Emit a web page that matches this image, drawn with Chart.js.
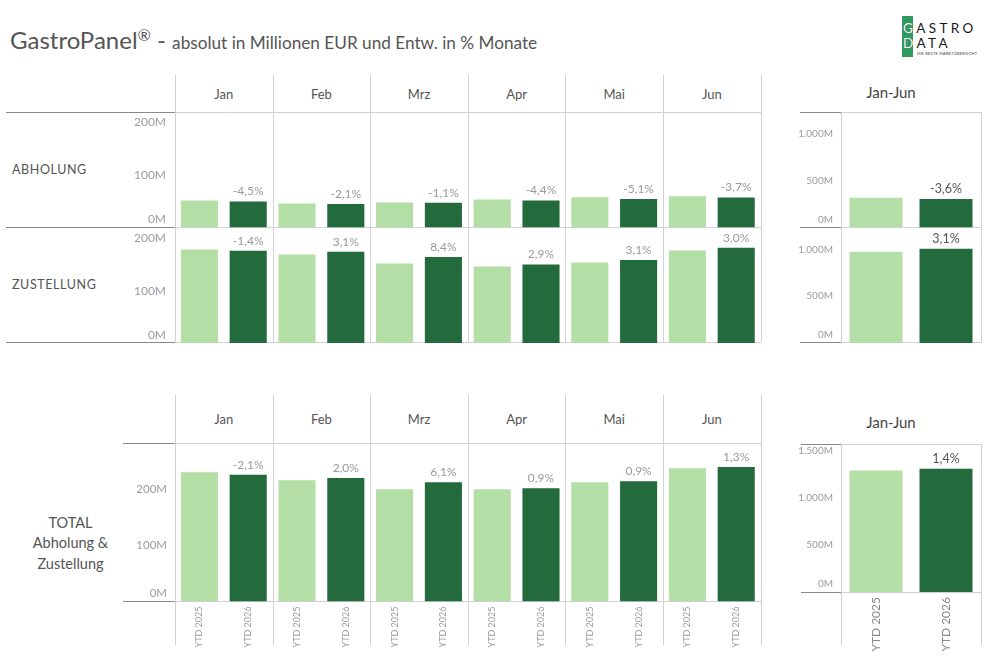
<!DOCTYPE html>
<html>
<head>
<meta charset="utf-8">
<script src="https://cdn.jsdelivr.net/npm/chart.js@4.4.1/dist/chart.umd.min.js"></script>
<style>
    body { margin: 0; width: 987px; height: 661px; background: #fff; position: relative; overflow: hidden; font-family: Lato, "Open Sans", sans-serif; }
    canvas { position: absolute; }
    .ln { position: absolute; }
    .lbl { position: absolute; white-space: nowrap; line-height: 1; }
</style>
</head>
<body>
<div id="stage"></div>
<script>
(function() {
    'use strict';

    // ---- Daten (Mio. EUR) ----
    const months = ['Jan', 'Feb', 'Mrz', 'Apr', 'Mai', 'Jun'];
    const seriesNames = ['YTD 2025', 'YTD 2026'];

    const abholung2025 = [51.6, 45.9, 47.8, 53.5, 57.4, 59.3];
    const abholung2026 = [49.3, 44.9, 47.3, 51.2, 54.4, 57.1];
    const abholungPct = ['-4,5%', '-2,1%', '-1,1%', '-4,4%', '-5,1%', '-3,7%'];

    const zustellung2025 = [178.8, 169.2, 151.9, 146.2, 153.8, 176.9];
    const zustellung2026 = [176.3, 174.4, 164.7, 150.4, 158.6, 182.2];
    const zustellungPct = ['-1,4%', '3,1%', '8,4%', '2,9%', '3,1%', '3,0%'];

    const total2025 = [229.7, 215.5, 199.6, 199.6, 212.0, 236.7];
    const total2026 = [225.5, 219.5, 211.8, 201.4, 213.9, 239.0];
    const totalPct = ['-2,1%', '2,0%', '6,1%', '0,9%', '0,9%', '1,3%'];

    // Jan-Jun Summen: [YTD 2025, YTD 2026]
    const ytdAbholung = [315.5, 304.2];
    const ytdZustellung = [977, 1007];
    const ytdTotal = [1292, 1311];
    const ytdPct = ['-3,6%', '3,1%', '1,4%'];

    // Achsen-Ticks
    const monthTicks = [0, 100, 200];
    const ytdTicks = [0, 500, 1000];
    const ytdTotalTicks = [0, 500, 1000, 1500];

    const LIGHT = '#b3dfa6';
    const DARK = '#236a3d';
    const LINE_DARK = '#8a8a8a';
    const LINE_LIGHT = '#d2d2d2';

    const stage = document.getElementById('stage');
    const COL_L = 175, COL_W = 97.6, COL_R = COL_L + COL_W * months.length;
    const R_L = 841, R_R = 981;

    function fmtM(v) {
        return String(v).replace(/\B(?=(\d{3})+(?!\d))/g, '.') + 'M';
    }

    function line(x1, y1, x2, y2, color) {
        const d = document.createElement('div');
        d.className = 'ln';
        d.style.left = Math.round(x1) + 'px';
        d.style.top = Math.round(y1) + 'px';
        d.style.width = Math.max(1, Math.round(x2 - x1)) + 'px';
        d.style.height = Math.max(1, Math.round(y2 - y1)) + 'px';
        d.style.background = color;
        stage.appendChild(d);
    }

    function label(html, x, y, css, align) {
        const d = document.createElement('div');
        d.className = 'lbl';
        d.innerHTML = html;
        d.style.left = x + 'px';
        d.style.top = y + 'px';
        const tx = align === 'left' ? '0' : (align === 'right' ? '-100%' : '-50%');
        d.style.transform = 'translate(' + tx + ',-50%)';
        Object.assign(d.style, css || {});
        stage.appendChild(d);
        return d;
    }

    // ---- Beschriftungen per Plugin über die Chart.js-Skalen ----
    const panelLabels = {
        id: 'panelLabels',
        afterDatasetsDraw(chart, args, o) {
            const ctx = chart.ctx, ys = chart.scales.y, area = chart.chartArea;
            ctx.save();
            ctx.textBaseline = 'middle';

            ctx.font = o.tickFont;
            ctx.fillStyle = '#9b9ba3';
            ctx.textAlign = 'right';
            o.ticks.forEach(v => {
                const py = Math.min(ys.getPixelForValue(v), area.bottom - 8);
                ctx.fillText(fmtM(v), area.left - o.tickGap, py);
            });

            ctx.font = o.pctFont;
            ctx.fillStyle = o.pctColor;
            ctx.textAlign = 'center';
            const meta = chart.getDatasetMeta(1);
            meta.data.forEach((bar, i) => {
                ctx.fillText(o.pct[i], bar.x, bar.y - 10);
            });

            if (o.xLabels) {
                ctx.font = o.xFont;
                ctx.fillStyle = o.xColor;
                ctx.textAlign = 'right';
                chart.data.datasets.forEach((ds, di) => {
                    chart.getDatasetMeta(di).data.forEach(bar => {
                        ctx.save();
                        ctx.translate(bar.x, area.bottom + o.xGap);
                        ctx.rotate(-Math.PI / 2);
                        ctx.fillText(ds.label, 0, 0);
                        ctx.restore();
                    });
                });
            }
            ctx.restore();
        }
    };

    function makeChart(cfg) {
        const [cx, cy, cw, ch] = cfg.canvas;
        const [px0, py0, px1, py1] = cfg.plot;
        const cv = document.createElement('canvas');
        cv.width = cw; cv.height = ch;
        cv.style.left = cx + 'px'; cv.style.top = cy + 'px';
        cv.style.width = cw + 'px'; cv.style.height = ch + 'px';
        stage.appendChild(cv);

        return new Chart(cv, {
            type: 'bar',
            data: {
                labels: cfg.labels,
                datasets: [
                    { label: seriesNames[0], data: cfg.d25, backgroundColor: LIGHT, borderWidth: 0 },
                    { label: seriesNames[1], data: cfg.d26, backgroundColor: DARK, borderWidth: 0 }
                ]
            },
            options: {
                responsive: false,
                animation: false,
                layout: { padding: { left: px0 - cx, top: py0 - cy, right: cx + cw - px1, bottom: cy + ch - py1 } },
                datasets: { bar: { categoryPercentage: 1, barPercentage: cfg.barPct } },
                scales: {
                    x: { display: false },
                    y: { display: false, min: 0, max: cfg.max }
                },
                plugins: {
                    legend: { display: false },
                    tooltip: { enabled: false },
                    panelLabels: {
                        ticks: cfg.ticks, tickFont: cfg.tickFont, tickGap: cfg.tickGap,
                        pct: cfg.pct, pctFont: cfg.pctFont || '12px Lato', pctColor: cfg.pctColor || '#9a9a9a',
                        xLabels: !!cfg.xFont, xFont: cfg.xFont, xColor: cfg.xColor, xGap: cfg.xGap
                    }
                }
            },
            plugins: [panelLabels]
        });
    }

    // ---- Titel und Logo ----
    label('GastroPanel<sup style="font-size:16px;vertical-align:8px;">®</sup> - <span style="font-size:17.2px;">absolut in Millionen EUR und Entw. in % Monate</span>',
        10, 39, { fontSize: '24px', color: '#555' }, 'left');

    const logo = document.createElement('div');
    logo.style.cssText = 'position:absolute;left:902px;top:16px;width:11px;height:41px;background:#2f9a5e;';
    stage.appendChild(logo);
    const logoTxt = 'font-size:13.5px;letter-spacing:3.4px;line-height:15px;font-family:Lato;';
    const lt = document.createElement('div');
    lt.style.cssText = 'position:absolute;left:903px;top:21px;color:#1a1a1a;' + logoTxt;
    lt.innerHTML = 'GASTRO<br>DATA';
    stage.appendChild(lt);
    const lclip = document.createElement('div');
    lclip.style.cssText = 'position:absolute;left:902px;top:16px;width:11px;height:41px;overflow:hidden;';
    lclip.innerHTML = '<div style="position:absolute;left:1px;top:5px;color:#fff;' + logoTxt + '">GASTRO<br>DATA</div>';
    stage.appendChild(lclip);
    label('DIE BESTE MARKTÜBERSICHT', 917, 53.5, { fontSize: '3.8px', color: '#333', letterSpacing: '0.3px' }, 'left');

    // ---- Oberer Block: Abholung / Zustellung ----
    for (let i = 0; i <= months.length; i++) line(COL_L + i * COL_W, 75, COL_L + i * COL_W + 1, 342, LINE_LIGHT);
    [112, 227, 342].forEach(y => {
        line(6, y, COL_L, y + 1, LINE_DARK);
        line(COL_L, y, COL_R, y + 1, LINE_LIGHT);
        line(800, y, R_L, y + 1, LINE_DARK);
        line(R_L, y, R_R, y + 1, LINE_LIGHT);
    });
    line(R_L, 112, R_L + 1, 342, LINE_LIGHT);
    line(R_R, 112, R_R + 1, 343, LINE_LIGHT);

    months.forEach((m, i) => label(m, COL_L + (i + 0.5) * COL_W, 94, { fontSize: '13px', color: '#555' }));
    label('Jan-Jun', 891, 91.5, { fontSize: '15px', color: '#444' });
    label('ABHOLUNG', 12, 170, { fontSize: '12.5px', color: '#555', letterSpacing: '0.6px' }, 'left');
    label('ZUSTELLUNG', 12, 285, { fontSize: '12.5px', color: '#555', letterSpacing: '0.6px' }, 'left');

    makeChart({ canvas: [100, 112, 665, 116], plot: [COL_L, 112, COL_R, 227.5], labels: months,
        d25: abholung2025, d26: abholung2026, pct: abholungPct, max: 220, ticks: monthTicks,
        tickFont: '12px Lato', tickGap: 9, barPct: 0.76 });
    makeChart({ canvas: [100, 227.5, 665, 115], plot: [COL_L, 227.5, COL_R, 342.5], labels: months,
        d25: zustellung2025, d26: zustellung2026, pct: zustellungPct, max: 220, ticks: monthTicks,
        tickFont: '12px Lato', tickGap: 9, barPct: 0.76 });

    makeChart({ canvas: [790, 112, 195, 116], plot: [R_L, 112, R_R, 227.5], labels: ['Jan-Jun'],
        d25: [ytdAbholung[0]], d26: [ytdAbholung[1]], pct: [ytdPct[0]], max: 1230, ticks: ytdTicks,
        tickFont: '10px Lato', tickGap: 8, barPct: 0.757, pctFont: '12.5px Lato', pctColor: '#555' });
    makeChart({ canvas: [790, 227.5, 195, 115], plot: [R_L, 227.5, R_R, 342.5], labels: ['Jan-Jun'],
        d25: [ytdZustellung[0]], d26: [ytdZustellung[1]], pct: [ytdPct[1]], max: 1230, ticks: ytdTicks,
        tickFont: '10px Lato', tickGap: 8, barPct: 0.757, pctFont: '12.5px Lato', pctColor: '#555' });

    // ---- Unterer Block: Total ----
    for (let i = 0; i <= months.length; i++) line(COL_L + i * COL_W, 395, COL_L + i * COL_W + 1, 645, LINE_LIGHT);
    [443, 601].forEach(y => {
        line(123, y, COL_L, y + 1, LINE_DARK);
        line(COL_L, y, COL_R, y + 1, LINE_LIGHT);
    });
    [444, 592].forEach(y => {
        line(801, y, R_L, y + 1, LINE_DARK);
        line(R_L, y, R_R, y + 1, LINE_LIGHT);
    });
    line(R_L, 444, R_L + 1, 645, LINE_LIGHT);
    line(R_R, 444, R_R + 1, 645, LINE_LIGHT);

    months.forEach((m, i) => label(m, COL_L + (i + 0.5) * COL_W, 419, { fontSize: '13px', color: '#555' }));
    label('Jan-Jun', 891, 422, { fontSize: '15px', color: '#444' });
    label('TOTAL<br>Abholung &amp;<br>Zustellung', 70.5, 543.5,
        { fontSize: '14.5px', color: '#555', textAlign: 'center', lineHeight: '20.5px' });

    makeChart({ canvas: [100, 443.5, 665, 217], plot: [COL_L, 443.5, COL_R, 601], labels: months,
        d25: total2025, d26: total2026, pct: totalPct, max: 280, ticks: monthTicks,
        tickFont: '11.5px Lato', tickGap: 8, barPct: 0.76,
        xFont: '9px Lato', xColor: '#9b9ba3', xGap: 5 });
    makeChart({ canvas: [790, 444, 195, 217], plot: [R_L, 444, R_R, 592], labels: ['Jan-Jun'],
        d25: [ytdTotal[0]], d26: [ytdTotal[1]], pct: [ytdPct[2]], max: 1575, ticks: ytdTotalTicks,
        tickFont: '10px Lato', tickGap: 8, barPct: 0.757, pctFont: '12.5px Lato', pctColor: '#555',
        xFont: '12px Lato', xColor: '#888', xGap: 5 });
})();
</script>
</body>
</html>
